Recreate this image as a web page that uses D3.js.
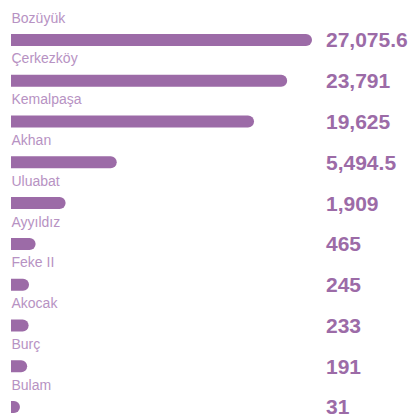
<!DOCTYPE html>
<html>
<head>
<meta charset="utf-8">
<script src="https://cdn.jsdelivr.net/npm/d3@7/dist/d3.min.js"></script>
<style>
  html, body { margin: 0; padding: 0; background: #ffffff; }
  svg { display: block; }
</style>
</head>
<body>
<div id="chart"></div>
<script>
// Site names and their values
const categories = ["Bozüyük", "Çerkezköy", "Kemalpaşa", "Akhan", "Uluabat", "Ayyıldız", "Feke II", "Akocak", "Burç", "Bulam"];
const values = [27075.6, 23791, 19625, 5494.5, 1909, 465, 245, 233, 191, 31];

const width = 412, height = 417;
const barColor = "#9c6ba7";
const labelColor = "#b792c3";
const fontFamily = "'Liberation Sans', Arial, Helvetica, sans-serif";

const svg = d3.select("#chart").append("svg")
  .attr("width", width)
  .attr("height", height);

// Row positions (centre line of each bar)
const y = d3.scalePoint()
  .domain(categories)
  .range([40, 407]);

// Bar length scale (compressed so small values stay visible)
const barH = 12, r = barH / 2, x0 = 11;
const x = d3.scalePow()
  .exponent(0.68)
  .domain([0, d3.max(values)])
  .range([0, 295]);

const data = categories.map((c, i) => ({ name: c, value: values[i] }));
const fmt = d3.format(",");

const rows = svg.selectAll("g.row")
  .data(data)
  .join("g")
  .attr("class", "row")
  .attr("transform", d => `translate(0,${y(d.name)})`);

// Bar with a rounded right end
rows.append("path")
  .attr("fill", barColor)
  .attr("d", d => {
    const w = x(d.value);
    return `M${x0},${-r}H${x0 + w}A${r},${r} 0 0 1 ${x0 + w},${r}H${x0}Z`;
  });

// Category label above each bar
rows.append("text")
  .attr("x", x0 + 0.5)
  .attr("y", -17.3)
  .attr("fill", labelColor)
  .attr("font-family", fontFamily)
  .attr("font-size", 14)
  .text(d => d.name);

// Value label at the right
rows.append("text")
  .attr("x", 326)
  .attr("y", 7.4)
  .attr("fill", barColor)
  .attr("font-family", fontFamily)
  .attr("font-weight", "bold")
  .attr("font-size", 21)
  .text(d => fmt(d.value));
</script>
</body>
</html>
